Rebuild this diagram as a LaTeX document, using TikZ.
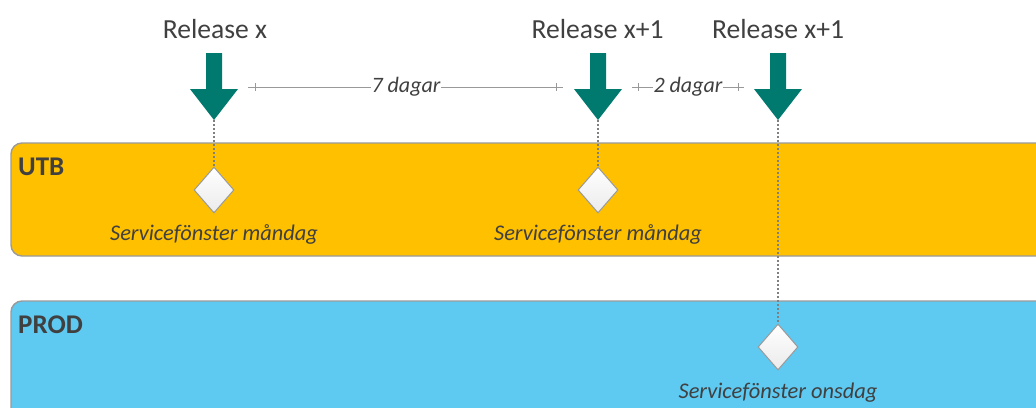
\documentclass[tikz,border=0pt]{standalone}
\usepackage{fontspec}
\setmainfont{Carlito}
\usetikzlibrary{shapes.geometric}
\definecolor{utb}{HTML}{FFC000}
\definecolor{prod}{HTML}{5EC9F1}
\definecolor{teal}{HTML}{00796F}
\definecolor{txt}{HTML}{404040}
\definecolor{bord}{HTML}{9A9A9A}
\tikzset{
  band/.style={draw=bord, line width=1.4pt, rounded corners=11pt},
  relarrow/.style={fill=teal, draw=none},
  reltext/.style={anchor=base, text=txt, font=\fontsize{27.6}{30}\selectfont, inner sep=0pt},
  lanetext/.style={anchor=base west, text=txt, font=\bfseries\fontsize{27}{30}\selectfont, inner sep=0pt},
  svctext/.style={anchor=base, text=txt, font=\itshape\fontsize{22.4}{26}\selectfont, inner sep=0pt},
  dimtext/.style={anchor=base, text=txt, font=\itshape\fontsize{22}{26}\selectfont, fill=white, inner sep=1pt},
  gate/.style={diamond, draw=bord, line width=1pt, top color=white, bottom color=black!8, minimum width=40pt, minimum height=46pt, inner sep=0pt},
  dots/.style={draw=black!50, line width=1.6pt, dash pattern=on 2pt off 2pt},
  dimline/.style={draw=black!40, line width=1pt},
}
\begin{document}
\begin{tikzpicture}[x=1pt,y=-1pt]
\clip (0,0) rectangle (1036,407);
\fill[white] (0,0) rectangle (1036,407);
% lanes
\draw[band, fill=utb] (11,143) rectangle (1060,256);
\draw[band, fill=prod] (11,301) rectangle (1060,440);
\node[lanetext] (utb) at (18,175) {UTB};
\node[lanetext] (prod) at (18,333) {PROD};
% release arrows
\foreach \n/\x in {a/214,b/598,c/778}{
  \fill[relarrow] (\x-8,53) -- (\x+8,53) -- (\x+8,89) -- (\x+24,89) -- (\x,120) -- (\x-24,89) -- (\x-8,89) -- cycle;
  \coordinate (tip\n) at (\x,120);
}
\node[reltext] (ra) at (215,38) {Release x};
\node[reltext] (rb) at (597.5,38) {Release x+1};
\node[reltext] (rc) at (778,38) {Release x+1};
% service windows
\node[gate] (ga) at (214,190) {};
\node[gate] (gb) at (598,190) {};
\node[gate] (gc) at (778,347) {};
\node[svctext] (sa) at (214,240) {Servicefönster måndag};
\node[svctext] (sb) at (598,240) {Servicefönster måndag};
\node[svctext] (sc) at (778,398) {Servicefönster onsdag};
% dotted connectors
\draw[dots] (tipa) -- (ga.north);
\draw[dots] (tipb) -- (gb.north);
\draw[dots] (tipc) -- (gc.north);
% dimension lines
\coordinate (d1s) at (248,87);
\coordinate (d1e) at (563,87);
\coordinate (d2s) at (632,87);
\coordinate (d2e) at (744,87);
\draw[dimline] (d1s) -- (d1e);
\draw[dimline] ([xshift=7pt]d1s) ++(0,-4) -- ++(0,8);
\draw[dimline] ([xshift=-7pt]d1e) ++(0,-4) -- ++(0,8);
\draw[dimline] (d2s) -- (d2e);
\draw[dimline] ([xshift=6pt]d2s) ++(0,-4) -- ++(0,8);
\draw[dimline] ([xshift=-6pt]d2e) ++(0,-4) -- ++(0,8);
\node[dimtext] (d1) at (406,92) {7 dagar};
\node[dimtext] (d2) at (688,92) {2 dagar};
\end{tikzpicture}
\end{document}
